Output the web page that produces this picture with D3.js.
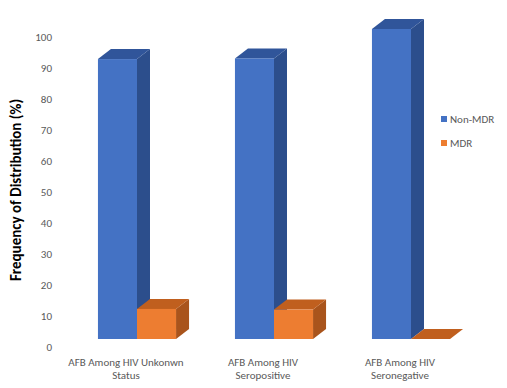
<!DOCTYPE html>
<html>
<head>
<meta charset="utf-8">
<script src="https://cdn.jsdelivr.net/npm/d3@7"></script>
<style>
  body { margin: 0; background: #fff; }
  text { font-family: Carlito, "Liberation Sans", sans-serif; }
</style>
</head>
<body>
<div class="container"></div>
<script>
var width = 507;
var height = 388;
var categories = ["AFB Among HIV Unkonwn Status", "AFB Among HIV Seropositive", "AFB Among HIV Seronegative"];
var catLines = [["AFB Among HIV Unkonwn", "Status"], ["AFB Among HIV", "Seropositive"], ["AFB Among HIV", "Seronegative"]];
var seriesNames = ["Non-MDR", "MDR"];
var nonMdr = [90.3, 90.5, 100];
var mdr = [9.7, 9.5, 0];
var yTicks = [0, 10, 20, 30, 40, 50, 60, 70, 80, 90, 100];

var colors = {
  "Non-MDR": {front: "#4472C4", side: "#2C4E8C", top: "#30559A"},
  "MDR": {front: "#ED7D31", side: "#A9541C", top: "#C05F1E"}
};
var depth = {dx: 13, dy: 10};

var svg = d3.select(".container")
  .append("svg")
  .attr("width", width)
  .attr("height", height);

//-----------------------------------------
// 1. SCALES
var x0 = d3.scaleBand()
  .domain(categories)
  .range([68.5, 479.5])
  .paddingInner(0.43)
  .paddingOuter(0.215);
var x1 = d3.scaleBand()
  .domain(seriesNames)
  .range([0, x0.bandwidth()]);
var y = d3.scaleLinear()
  .domain([0, 100])
  .range([339, 29]);

//-----------------------------------------
// 2. AXIS
var yAxis = d3.axisLeft(y).tickValues(yTicks).tickSize(0).tickPadding(0);
var gy = svg.append("g")
  .attr("transform", "translate(52,8)")
  .call(yAxis);
gy.select(".domain").remove();
gy.selectAll("text")
  .attr("fill", "#595959")
  .style("font-size", "11px");

svg.append("text")
  .attr("transform", "translate(21,190) rotate(-90)")
  .attr("text-anchor", "middle")
  .style("font-size", "15px")
  .style("font-weight", "bold")
  .attr("fill", "#000")
  .text("Frequency of Distribution (%)");

var xl = svg.append("g");
categories.forEach(function(c, i) {
  var t = xl.append("text")
    .attr("x", x0(c) + x0.bandwidth() / 2 - 11)
    .attr("y", 366)
    .attr("text-anchor", "middle")
    .attr("fill", "#595959")
    .style("font-size", "11px");
  catLines[i].forEach(function(line, j) {
    t.append("tspan")
      .attr("x", x0(c) + x0.bandwidth() / 2 - 11)
      .attr("dy", j === 0 ? 0 : 13)
      .text(line);
  });
});

//-----------------------------------------
// 3. 3D BARS
var rows = [];
categories.forEach(function(c, i) {
  rows.push({cat: c, series: "Non-MDR", value: nonMdr[i]});
  rows.push({cat: c, series: "MDR", value: mdr[i]});
});

var bars = svg.selectAll(".bar")
  .data(rows)
  .enter()
  .append("g")
  .attr("class", "bar");

function pts(a) { return a.map(function(p) { return p.join(","); }).join(" "); }

bars.each(function(d) {
  var g = d3.select(this);
  var bx = x0(d.cat) + x1(d.series);
  var bw = x1.bandwidth();
  var top = y(d.value);
  var base = y(0);
  var c = colors[d.series];
  g.append("polygon")
    .attr("points", pts([[bx + bw, top], [bx + bw + depth.dx, top - depth.dy], [bx + bw + depth.dx, base - depth.dy], [bx + bw, base]]))
    .attr("fill", c.side);
  g.append("polygon")
    .attr("points", pts([[bx, top], [bx + depth.dx, top - depth.dy], [bx + bw + depth.dx, top - depth.dy], [bx + bw, top]]))
    .attr("fill", c.top);
  g.append("rect")
    .attr("x", bx)
    .attr("y", top)
    .attr("width", bw)
    .attr("height", base - top)
    .attr("fill", c.front);
});

//-----------------------------------------
// 4. LEGEND
var legend = svg.selectAll(".legend")
  .data(seriesNames)
  .enter()
  .append("g")
  .attr("class", "legend")
  .attr("transform", function(d, i) { return "translate(441," + (116 + i * 24) + ")"; });
legend.append("rect")
  .attr("width", 6)
  .attr("height", 6)
  .attr("fill", function(d) { return colors[d].front; });
legend.append("text")
  .attr("x", 9)
  .attr("y", 7)
  .attr("fill", "#595959")
  .style("font-size", "11px")
  .text(function(d) { return d; });
</script>
</body>
</html>
